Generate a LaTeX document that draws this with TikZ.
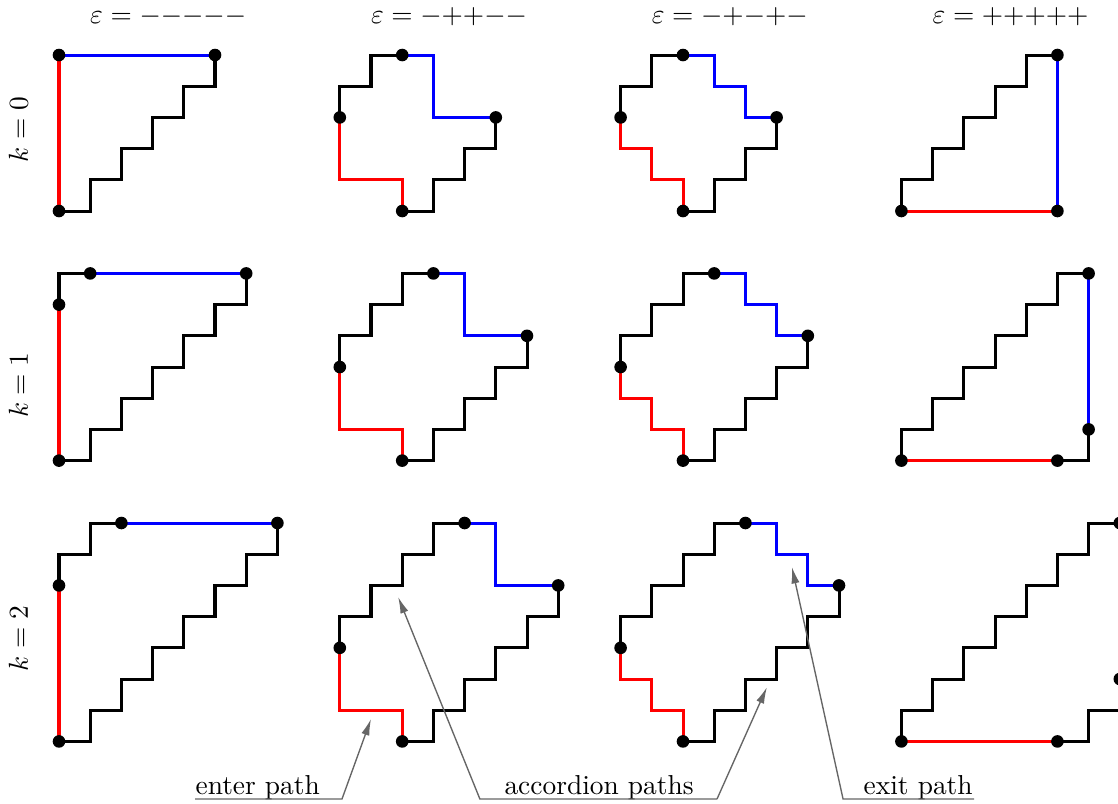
\documentclass[tikz,border=0pt]{standalone}
\usetikzlibrary{arrows.meta}
\begin{document}
\begin{tikzpicture}[x=0.4cm,y=0.4cm,
  blk/.style={line width=1.1pt, black},
  redp/.style={line width=1.1pt, red},
  bluep/.style={line width=1.1pt, blue},
  hdr/.style={anchor=base, inner sep=0pt},
  rowlbl/.style={rotate=90, anchor=base, inner sep=0pt},
  ann/.style={draw=black!60, line width=0.5pt, {Latex[length=6pt,width=3pt]}-},
  anntext/.style={inner sep=0pt}]
\clip (-1.891,-18.974) rectangle (33.942,6.763);
\def\dotr{2.3pt}
% headers
\node[hdr] (h1) at (3.5,6) {$\varepsilon = {-}{-}{-}{-}{-}$};
\node[hdr] (h2) at (12.5,6) {$\varepsilon = {-}{+}{+}{-}{-}$};
\node[hdr] (h3) at (21.5,6) {$\varepsilon = {-}{+}{-}{+}{-}$};
\node[hdr] (h4) at (30.5,6) {$\varepsilon = {+}{+}{+}{+}{+}$};
% row labels
\node[rowlbl] (k0) at (-1,2.6) {$k=0$};
\node[rowlbl] (k1) at (-1,-5.58) {$k=1$};
\node[rowlbl] (k2) at (-1,-13.7) {$k=2$};

% ===== Row 0 =====
\begin{scope}[shift={(0,0)}]
\draw[blk] (0,0)--(1,0)--(1,1)--(2,1)--(2,2)--(3,2)--(3,3)--(4,3)--(4,4)--(5,4)--(5,5);
\draw[redp] (0,0)--(0,5);
\draw[bluep] (0,5)--(5,5);
\foreach \p in {(0,0),(0,5),(5,5)} \fill \p circle (\dotr);
\end{scope}
\begin{scope}[shift={(9,0)}]
\draw[blk] (0,3)--(0,4)--(1,4)--(1,5)--(2,5);
\draw[blk] (5,3)--(5,2)--(4,2)--(4,1)--(3,1)--(3,0)--(2,0);
\draw[redp] (0,3)--(0,1)--(2,1)--(2,0);
\draw[bluep] (2,5)--(3,5)--(3,3)--(5,3);
\foreach \p in {(0,3),(2,0),(2,5),(5,3)} \fill \p circle (\dotr);
\end{scope}
\begin{scope}[shift={(18,0)}]
\draw[blk] (0,3)--(0,4)--(1,4)--(1,5)--(2,5);
\draw[blk] (5,3)--(5,2)--(4,2)--(4,1)--(3,1)--(3,0)--(2,0);
\draw[redp] (0,3)--(0,2)--(1,2)--(1,1)--(2,1)--(2,0);
\draw[bluep] (2,5)--(3,5)--(3,4)--(4,4)--(4,3)--(5,3);
\foreach \p in {(0,3),(2,0),(2,5),(5,3)} \fill \p circle (\dotr);
\end{scope}
\begin{scope}[shift={(27,0)}]
\draw[blk] (0,0)--(0,1)--(1,1)--(1,2)--(2,2)--(2,3)--(3,3)--(3,4)--(4,4)--(4,5)--(5,5);
\draw[redp] (0,0)--(5,0);
\draw[bluep] (5,0)--(5,5);
\foreach \p in {(0,0),(5,0),(5,5)} \fill \p circle (\dotr);
\end{scope}

% ===== Row 1 =====
\begin{scope}[shift={(0,-8)}]
\draw[blk] (0,0)--(1,0)--(1,1)--(2,1)--(2,2)--(3,2)--(3,3)--(4,3)--(4,4)--(5,4)--(5,5)--(6,5)--(6,6);
\draw[blk] (0,5)--(0,6)--(1,6);
\draw[redp] (0,0)--(0,5);
\draw[bluep] (1,6)--(6,6);
\foreach \p in {(0,0),(0,5),(1,6),(6,6)} \fill \p circle (\dotr);
\end{scope}
\begin{scope}[shift={(9,-8)}]
\draw[blk] (0,3)--(0,4)--(1,4)--(1,5)--(2,5)--(2,6)--(3,6);
\draw[blk] (6,4)--(6,3)--(5,3)--(5,2)--(4,2)--(4,1)--(3,1)--(3,0)--(2,0);
\draw[redp] (0,3)--(0,1)--(2,1)--(2,0);
\draw[bluep] (3,6)--(4,6)--(4,4)--(6,4);
\foreach \p in {(0,3),(2,0),(3,6),(6,4)} \fill \p circle (\dotr);
\end{scope}
\begin{scope}[shift={(18,-8)}]
\draw[blk] (0,3)--(0,4)--(1,4)--(1,5)--(2,5)--(2,6)--(3,6);
\draw[blk] (6,4)--(6,3)--(5,3)--(5,2)--(4,2)--(4,1)--(3,1)--(3,0)--(2,0);
\draw[redp] (0,3)--(0,2)--(1,2)--(1,1)--(2,1)--(2,0);
\draw[bluep] (3,6)--(4,6)--(4,5)--(5,5)--(5,4)--(6,4);
\foreach \p in {(0,3),(2,0),(3,6),(6,4)} \fill \p circle (\dotr);
\end{scope}
\begin{scope}[shift={(27,-8)}]
\draw[blk] (0,0)--(0,1)--(1,1)--(1,2)--(2,2)--(2,3)--(3,3)--(3,4)--(4,4)--(4,5)--(5,5)--(5,6)--(6,6);
\draw[blk] (5,0)--(6,0)--(6,1);
\draw[redp] (0,0)--(5,0);
\draw[bluep] (6,1)--(6,6);
\foreach \p in {(0,0),(5,0),(6,1),(6,6)} \fill \p circle (\dotr);
\end{scope}

% ===== Row 2 =====
\begin{scope}[shift={(0,-17)}]
\draw[blk] (0,0)--(1,0)--(1,1)--(2,1)--(2,2)--(3,2)--(3,3)--(4,3)--(4,4)--(5,4)--(5,5)--(6,5)--(6,6)--(7,6)--(7,7);
\draw[blk] (0,5)--(0,6)--(1,6)--(1,7)--(2,7);
\draw[redp] (0,0)--(0,5);
\draw[bluep] (2,7)--(7,7);
\foreach \p in {(0,0),(0,5),(2,7),(7,7)} \fill \p circle (\dotr);
\end{scope}
\begin{scope}[shift={(9,-17)}]
\draw[blk] (0,3)--(0,4)--(1,4)--(1,5)--(2,5)--(2,6)--(3,6)--(3,7)--(4,7);
\draw[blk] (7,5)--(7,4)--(6,4)--(6,3)--(5,3)--(5,2)--(4,2)--(4,1)--(3,1)--(3,0)--(2,0);
\draw[redp] (0,3)--(0,1)--(2,1)--(2,0);
\draw[bluep] (4,7)--(5,7)--(5,5)--(7,5);
\foreach \p in {(0,3),(2,0),(4,7),(7,5)} \fill \p circle (\dotr);
\end{scope}
\begin{scope}[shift={(18,-17)}]
\draw[blk] (0,3)--(0,4)--(1,4)--(1,5)--(2,5)--(2,6)--(3,6)--(3,7)--(4,7);
\draw[blk] (7,5)--(7,4)--(6,4)--(6,3)--(5,3)--(5,2)--(4,2)--(4,1)--(3,1)--(3,0)--(2,0);
\draw[redp] (0,3)--(0,2)--(1,2)--(1,1)--(2,1)--(2,0);
\draw[bluep] (4,7)--(5,7)--(5,6)--(6,6)--(6,5)--(7,5);
\foreach \p in {(0,3),(2,0),(4,7),(7,5)} \fill \p circle (\dotr);
\end{scope}
\begin{scope}[shift={(27,-17)}]
\draw[blk] (0,0)--(0,1)--(1,1)--(1,2)--(2,2)--(2,3)--(3,3)--(3,4)--(4,4)--(4,5)--(5,5)--(5,6)--(6,6)--(6,7)--(7,7);
\draw[blk] (5,0)--(6,0)--(6,1)--(7,1)--(7,2);
\draw[redp] (0,0)--(5,0);
\draw[bluep] (7,2)--(7,7);
\foreach \p in {(0,0),(5,0),(7,2),(7,7)} \fill \p circle (\dotr);
\end{scope}

% ===== annotations =====
\node[anntext, anchor=base west] (enter) at (4.36,-18.686) {enter path};
\node[anntext, anchor=base] (acc) at (17.31,-18.686) {accordion paths};
\node[anntext, anchor=base east] (exit) at (29.30,-18.686) {exit path};
\coordinate (tEnter) at (10.0,-16.28);
\coordinate (tAccA) at (10.87,-12.37);
\coordinate (tAccB) at (22.69,-15.26);
\coordinate (tExit) at (23.49,-11.41);
\coordinate (bEnterL) at (4.36,-18.846);
\coordinate (bEnterR) at (9.07,-18.846);
\coordinate (bAccL) at (13.49,-18.846);
\coordinate (bAccR) at (21.09,-18.846);
\coordinate (bExitL) at (25.13,-18.846);
\coordinate (bExitR) at (29.33,-18.846);
\draw[ann] (tEnter) -- (bEnterR) -- (bEnterL);
\draw[ann] (tAccA) -- (bAccL) -- (bAccR);
\draw[ann] (tAccB) -- (bAccR);
\draw[ann] (tExit) -- (bExitL) -- (bExitR);
\end{tikzpicture}
\end{document}
